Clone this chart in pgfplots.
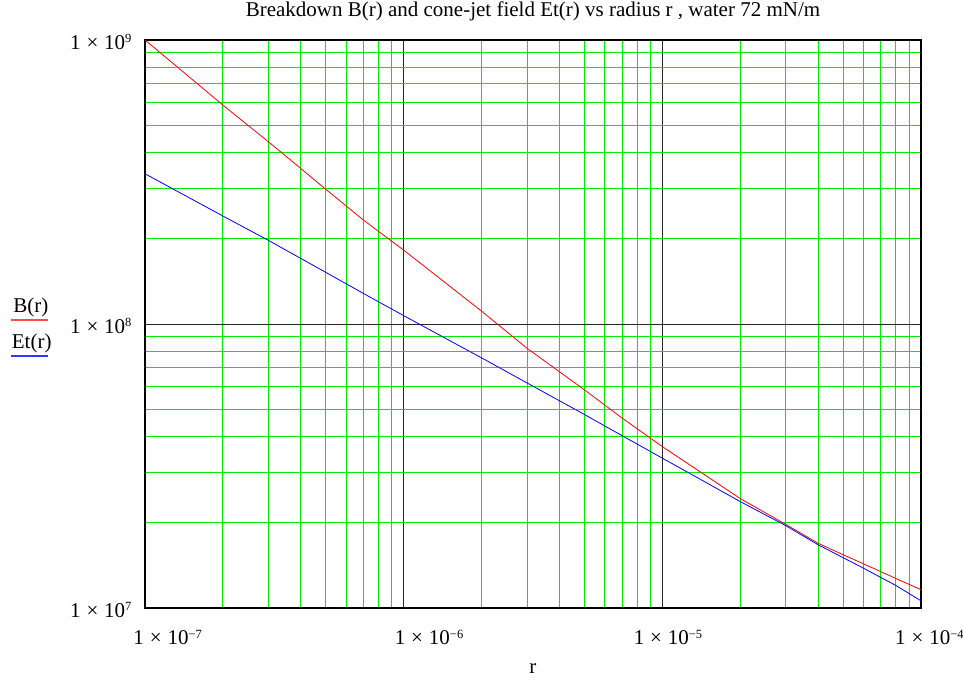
\documentclass[border=0pt]{standalone}
\usepackage{fontspec}
\setmainfont{Liberation Serif}
\usepackage{pgfplots}
\pgfplotsset{compat=1.18}

% Mathcad style tick label: 1 x 10^n
\newcommand{\tl}[1]{1\hspace{0.28em}×\hspace{0.28em}10\raisebox{6.7pt}{\fontsize{12.5}{13}\selectfont #1}}

\begin{document}
\begin{tikzpicture}
\useasboundingbox (-145pt,-72pt) rectangle (818pt,608pt);
\begin{axis}[
    xmode=log, ymode=log,
    scale only axis,
    width=776pt, height=568pt,
    xmin=1e-7, xmax=1e-4,
    ymin=1e7, ymax=1e9,
    xtick={1e-7,1e-6,1e-5,1e-4},
    minor xtick={2e-7,3e-7,4e-7,5e-7,6e-7,7e-7,8e-7,9e-7,
                 2e-6,3e-6,4e-6,5e-6,6e-6,7e-6,8e-6,9e-6,
                 2e-5,3e-5,4e-5,5e-5,6e-5,7e-5,8e-5,9e-5},
    xticklabels={\hspace{-11.7pt}\tl{−7},\hspace{-9pt}\tl{−6},\hspace{-28.7pt}\tl{−5},\hspace{-26pt}\tl{−4}},
    ytick={1e7,1e8,1e9},
    minor ytick={2e7,3e7,4e7,5e7,6e7,7e7,8e7,9e7,
                 2e8,3e8,4e8,5e8,6e8,7e8,8e8,9e8},
    yticklabels={\tl{7},\tl{8},\tl{9}},
    major tick length=0pt, minor tick length=0pt,
    xmajorgrids, ymajorgrids, xminorgrids, yminorgrids,
    minor grid style={color={rgb,255:red,0;green,235;blue,0}, line width=1pt},
    major grid style={color=black!85, line width=0.9pt},
    axis line style={black, line width=1.2pt},
    every tick label/.append style={font=\fontsize{21}{24}\selectfont, inner sep=0pt},
    xticklabel style={anchor=base west, yshift=-37pt},
    yticklabel style={anchor=base east, xshift=-13.3pt, yshift=-9.5pt},
    title={Breakdown B(r) and cone-jet field Et(r) vs radius r , water 72 mN/m},
    title style={font=\fontsize{21}{24}\selectfont, at={(0.5,1)}, anchor=base, yshift=17pt, inner sep=0pt},
    xlabel={r},
    xlabel style={font=\fontsize{21}{24}\selectfont, at={(0.5,0)}, anchor=base, yshift=-66pt, inner sep=0pt},
]

% B(r)
\addplot[red, line width=0.8pt] coordinates {
    (1e-7,1.0e9)
    (2e-7,5.90e8)
    (3e-7,4.38e8)
    (4e-7,3.53e8)
    (5e-7,2.98e8)
    (7e-7,2.32e8)
    (1e-6,1.82e8)
    (2e-6,1.11e8)
    (3e-6,8.21e7)
    (4e-6,6.79e7)
    (5e-6,5.86e7)
    (7e-6,4.66e7)
    (1e-5,3.70e7)
    (2e-5,2.43e7)
    (3e-5,1.97e7)
    (4e-5,1.69e7)
    (5e-5,1.54e7)
    (6e-5,1.43e7)
    (8e-5,1.27e7)
    (1e-4,1.16e7)
};

% Et(r)
\addplot[blue, line width=0.8pt] coordinates {
    (1e-7,3.38e8)
    (2e-7,2.40e8)
    (3e-7,1.97e8)
    (5e-7,1.52e8)
    (7e-7,1.28e8)
    (1e-6,1.07e8)
    (2e-6,7.60e7)
    (3e-6,6.20e7)
    (5e-6,4.80e7)
    (7e-6,4.04e7)
    (1e-5,3.37e7)
    (2e-5,2.37e7)
    (3e-5,1.95e7)
    (4e-5,1.67e7)
    (6e-5,1.38e7)
    (8e-5,1.20e7)
    (1e-4,1.06e7)
};
\end{axis}

% y label with coloured underlines, Mathcad style
\node[anchor=base, inner sep=0pt, font=\fontsize{21}{24}\selectfont] at (-114.2pt,295.3pt) {B(r)};
\draw[red!70, line width=1.2pt] (-134pt,288pt) -- (-96.7pt,288pt);
\node[anchor=base, inner sep=0pt, font=\fontsize{21}{24}\selectfont] at (-113.3pt,259.3pt) {Et(r)};
\draw[blue!80, line width=1.2pt] (-134pt,252pt) -- (-96.7pt,252pt);
\end{tikzpicture}
\end{document}
